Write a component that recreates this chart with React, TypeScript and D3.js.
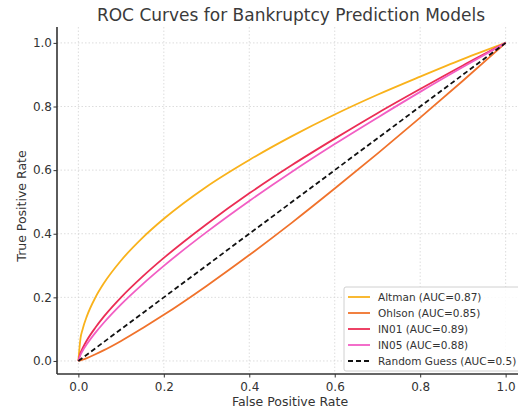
import React, { useRef, useEffect } from 'react';
import * as d3 from 'd3';

// false positive rate samples
const fpr = [0, 0.005, 0.01, 0.02, 0.04, 0.06, 0.1, 0.15, 0.2, 0.3, 0.4, 0.5, 0.6, 0.7, 0.8, 0.9, 1.0];

const altmanTpr = [0, 0.071, 0.1, 0.141, 0.2, 0.245, 0.316, 0.387, 0.447, 0.548, 0.632, 0.707, 0.775, 0.837, 0.894, 0.949, 1.0];
const ohlsonTpr = [0, 0.002, 0.004, 0.009, 0.021, 0.034, 0.063, 0.103, 0.145, 0.236, 0.333, 0.435, 0.542, 0.652, 0.765, 0.881, 1.0];
const in01Tpr = [0, 0.025, 0.04, 0.065, 0.105, 0.14, 0.2, 0.265, 0.324, 0.43, 0.527, 0.616, 0.699, 0.779, 0.855, 0.929, 1.0];
const in05Tpr = [0, 0.019, 0.032, 0.053, 0.089, 0.121, 0.178, 0.241, 0.299, 0.405, 0.503, 0.595, 0.682, 0.765, 0.846, 0.924, 1.0];
const randomTpr = [0, 1];
const randomFpr = [0, 1];

const seriesNames = ['Altman', 'Ohlson', 'IN01', 'IN05'];
const seriesAuc = [0.87, 0.85, 0.89, 0.88];
const seriesColors = ['#f9b21b', '#f0722b', '#eb2d55', '#f25ec4'];

const tickValues = [0, 0.2, 0.4, 0.6, 0.8, 1.0];

const RocChart = ({ width = 518, height = 411 }) => {
    const svgRef = useRef(null);

    useEffect(() => {
        const svg = d3.select(svgRef.current);
        svg.selectAll('*').remove();

        // plot area; only left and bottom spines are drawn
        const margin = { top: 27, right: -9, bottom: 37, left: 57 };
        const innerWidth = width - margin.left - margin.right;
        const innerHeight = height - margin.top - margin.bottom;

        const x = d3.scaleLinear().domain([-0.05, 1.05]).range([0, innerWidth]);
        const y = d3.scaleLinear().domain([-0.041, 1.05]).range([innerHeight, 0]);

        const font = 'DejaVu Sans, sans-serif';
        const chart = svg.append('g').attr('transform', `translate(${margin.left}, ${margin.top})`);

        // grid
        chart.selectAll('.vgrid').data(tickValues).enter().append('line')
            .attr('x1', (d) => x(d)).attr('x2', (d) => x(d))
            .attr('y1', 0).attr('y2', innerHeight)
            .attr('stroke', '#d4d4d4').attr('stroke-width', 0.8).attr('stroke-dasharray', '1.5,2');
        chart.selectAll('.hgrid').data(tickValues).enter().append('line')
            .attr('y1', (d) => y(d)).attr('y2', (d) => y(d))
            .attr('x1', 0).attr('x2', innerWidth)
            .attr('stroke', '#d4d4d4').attr('stroke-width', 0.8).attr('stroke-dasharray', '1.5,2');

        // curves
        const line = d3.line()
            .x((d) => x(d[0]))
            .y((d) => y(d[1]))
            .curve(d3.curveMonotoneX);

        const allTpr = [altmanTpr, ohlsonTpr, in01Tpr, in05Tpr];
        allTpr.forEach((tpr, i) => {
            chart.append('path')
                .datum(fpr.map((f, j) => [f, tpr[j]]))
                .attr('d', line)
                .attr('fill', 'none')
                .attr('stroke', seriesColors[i])
                .attr('stroke-width', 1.8);
        });

        chart.append('path')
            .datum(randomFpr.map((f, j) => [f, randomTpr[j]]))
            .attr('d', line)
            .attr('fill', 'none')
            .attr('stroke', '#111')
            .attr('stroke-width', 1.8)
            .attr('stroke-dasharray', '5,3');

        // axes
        const xAxis = chart.append('g')
            .attr('transform', `translate(0, ${innerHeight})`)
            .call(d3.axisBottom(x).tickValues(tickValues).tickFormat(d3.format('.1f')).tickSizeOuter(0).tickSize(3.5).tickPadding(4.5));
        const yAxis = chart.append('g')
            .call(d3.axisLeft(y).tickValues(tickValues).tickFormat(d3.format('.1f')).tickSizeOuter(0).tickSize(3.5).tickPadding(1.5));

        [xAxis, yAxis].forEach((ax) => {
            ax.select('.domain').attr('stroke', '#333').attr('stroke-width', 1.6);
            ax.selectAll('.tick line').attr('stroke', '#333').attr('stroke-width', 1);
            ax.selectAll('.tick text').attr('fill', '#333').style('font-family', font).style('font-size', '12px');
        });
        yAxis.select('.domain').attr('d', `M0,${innerHeight}V0`);
        xAxis.select('.domain').attr('d', `M0,0H${innerWidth}`);

        // title and axis labels
        svg.append('text')
            .attr('x', 291).attr('y', 21)
            .attr('text-anchor', 'middle')
            .attr('fill', '#3a3a3a')
            .style('font-family', font).style('font-size', '17px')
            .text('ROC Curves for Bankruptcy Prediction Models');

        svg.append('text')
            .attr('x', 290).attr('y', 406)
            .attr('text-anchor', 'middle')
            .attr('fill', '#333')
            .style('font-family', font).style('font-size', '12.5px')
            .text('False Positive Rate');

        svg.append('text')
            .attr('transform', 'translate(26, 206) rotate(-90)')
            .attr('text-anchor', 'middle')
            .attr('fill', '#333')
            .style('font-family', font).style('font-size', '12.5px')
            .text('True Positive Rate');

        // legend
        const legendLabels = seriesNames.map((n, i) => `${n} (AUC=${seriesAuc[i]})`).concat(['Random Guess (AUC=0.5)']);
        const legendColors = seriesColors.concat(['#111']);
        const legend = svg.append('g').attr('transform', 'translate(344, 287)');
        legend.append('rect')
            .attr('width', 180).attr('height', 84).attr('rx', 2)
            .attr('fill', 'white').attr('fill-opacity', 0.85)
            .attr('stroke', '#d0d0d0').attr('stroke-width', 1);
        legendLabels.forEach((label, i) => {
            const ly = 10 + i * 16;
            legend.append('line')
                .attr('x1', 4).attr('x2', 26).attr('y1', ly).attr('y2', ly)
                .attr('stroke', legendColors[i]).attr('stroke-width', 1.8)
                .attr('stroke-dasharray', i === 4 ? '5,3' : null);
            legend.append('text')
                .attr('x', 34).attr('y', ly + 4)
                .attr('fill', '#333')
                .style('font-family', font).style('font-size', '10.5px')
                .text(label);
        });
    }, [width, height]);

    return <svg ref={svgRef} width={width} height={height} style={{ position: 'absolute', left: 0, top: 0, background: 'white' }}></svg>;
};

export default function App() {
    return <RocChart />;
}
